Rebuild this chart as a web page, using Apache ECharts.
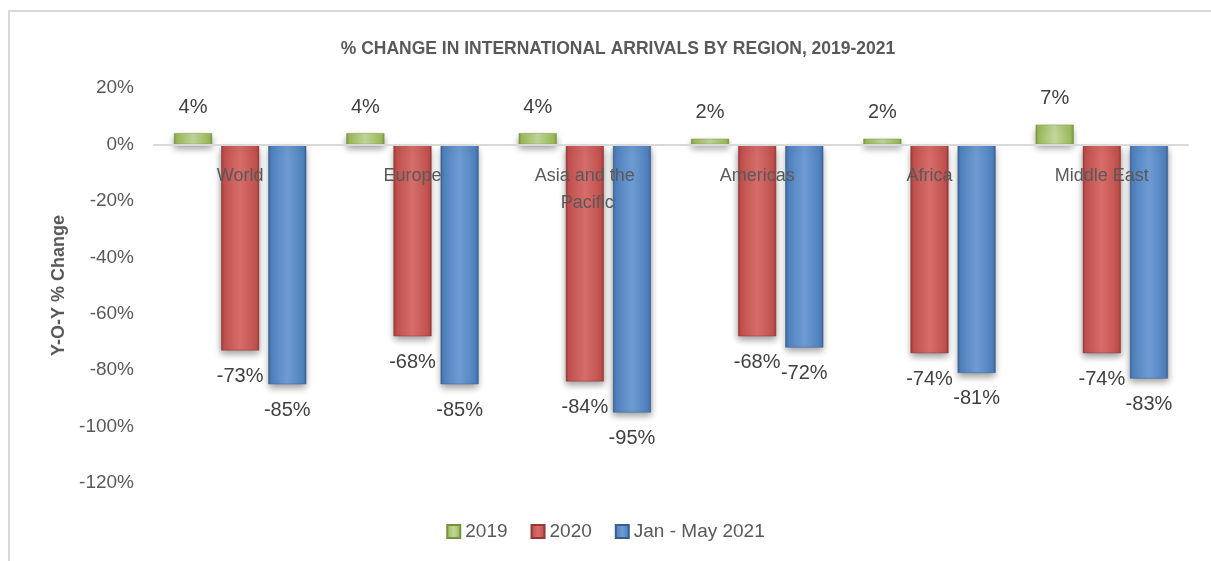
<!DOCTYPE html>
<html>
<head>
<meta charset="utf-8">
<script src="https://cdn.jsdelivr.net/npm/echarts@6/dist/echarts.min.js"></script>
<style>
  html, body { margin: 0; padding: 0; background: #fff; }
  .frame {
    position: absolute; left: 8px; top: 10px; right: 0; bottom: 0;
    border-left: 2px solid #d9d9d9; border-top: 2px solid #d9d9d9;
  }
  #chart { position: absolute; left: 0; top: 0; width: 1211px; height: 561px; }
</style>
</head>
<body>
<div class="frame"></div>
<div id="chart"></div>
<script>
// data
const regions = ['World', 'Europe', 'Asia and the Pacific', 'Americas', 'Africa', 'Middle East']
const y2019 = [4, 4, 4, 2, 2, 7]
const y2020 = [-73, -68, -84, -68, -74, -74]
const y2021 = [-85, -85, -95, -72, -81, -83]
const seriesNames = ['2019', '2020', 'Jan - May 2021']

const textColor = '#595959'
const font = 'Liberation Sans, Arial, sans-serif'

// grid geometry (y axis from -120 to 20)
const gridTop = 88
const gridHeight = 395
const yMin = -120
const yMax = 20
// move the category axis up to the zero line
const zeroOffset = -gridHeight * (0 - yMin) / (yMax - yMin)

// bevel-ish gradient for each bar
const bevel = function (dark, base, light) {
  return new echarts.graphic.LinearGradient(0, 0, 1, 0, [
    { offset: 0, color: dark },
    { offset: 0.07, color: base },
    { offset: 0.5, color: light },
    { offset: 0.93, color: base },
    { offset: 1, color: dark }
  ])
}

const makeSeries = function (name, data, colors, pos) {
  return {
    name: name,
    type: 'bar',
    data: data,
    barWidth: 38,
    barGap: '24%',
    itemStyle: {
      color: bevel(colors[0], colors[1], colors[2]),
      borderColor: colors[0],
      borderWidth: 0.5,
      shadowColor: 'rgba(0,0,0,0.4)',
      shadowBlur: 7,
      shadowOffsetY: 4
    },
    label: {
      show: true,
      position: pos,
      distance: 16,
      formatter: '{c}%',
      color: '#404040',
      fontSize: 20,
      fontFamily: font
    }
  }
}

const chart = echarts.init(document.getElementById('chart'))
const option = {
  animation: false,
  title: {
    text: '% CHANGE IN INTERNATIONAL ARRIVALS BY REGION, 2019-2021',
    left: 613,
    textAlign: 'center',
    top: 35,
    textStyle: {
      color: textColor,
      fontSize: 17.5,
      fontWeight: 'bold',
      fontFamily: font
    }
  },
  legend: {
    bottom: 15,
    left: 'center',
    itemWidth: 13,
    itemHeight: 13,
    itemGap: 23,
    icon: 'rect',
    textStyle: { color: textColor, fontSize: 19, fontFamily: font },
    data: seriesNames
  },
  grid: { left: 154, right: 23, top: gridTop, height: gridHeight },
  xAxis: {
    type: 'category',
    data: regions,
    z: 10,
    offset: zeroOffset,
    axisLine: { onZero: false, lineStyle: { color: '#d9d9d9', width: 2 } },
    axisTick: { show: false },
    axisLabel: {
      interval: 0,
      margin: 18,
      color: textColor,
      fontSize: 18,
      fontFamily: font,
      width: 104,
      overflow: 'break',
      lineHeight: 27
    }
  },
  yAxis: {
    type: 'value',
    min: yMin,
    max: yMax,
    interval: 20,
    name: 'Y-O-Y % Change',
    nameLocation: 'middle',
    nameGap: 83,
    nameTextStyle: { color: textColor, fontSize: 18, fontWeight: 'bold', fontFamily: font },
    axisLine: { show: false },
    axisTick: { show: false },
    splitLine: { show: false },
    axisLabel: { formatter: '{value}%', color: textColor, fontSize: 19, margin: 20, fontFamily: font }
  },
  series: [
    makeSeries(seriesNames[0], y2019, ['#76923c', '#9bbb59', '#c3d69b'], 'top'),
    makeSeries(seriesNames[1], y2020, ['#953735', '#c0504d', '#d66d6a'], 'bottom'),
    makeSeries(seriesNames[2], y2021, ['#366092', '#4f81bd', '#6e9bd3'], 'bottom')
  ]
}
chart.setOption(option)
</script>
</body>
</html>
